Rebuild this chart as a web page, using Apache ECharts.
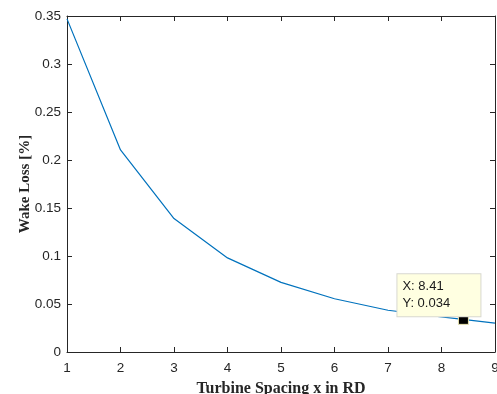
<!DOCTYPE html>
<html>
<head>
<meta charset="utf-8">
<script src="https://cdn.jsdelivr.net/npm/echarts@6/dist/echarts.min.js"></script>
<style>
  html, body { margin: 0; padding: 0; background: #fff; }
  #chart { width: 497px; height: 394px; }
</style>
</head>
<body>
<div id="chart"></div>
<script>
// turbine spacing (rotor diameters) vs wake loss
const spacing = [1, 2, 3, 4, 5, 6, 7, 8, 9]
const wakeLoss = [0.347, 0.2105, 0.139, 0.098, 0.0725, 0.0555, 0.0435, 0.0365, 0.030]
const tipPoint = [8.41, 0.034]
const tipText = ["X: 8.41", "Y: 0.034"]

const chart = echarts.init(document.getElementById("chart"), null, { renderer: "canvas" })

const tickColor = "#262626"
const axisFont = { color: tickColor, fontFamily: "Arial, 'Liberation Sans', sans-serif", fontSize: 13.5 }

const boxAxis = (extra) => Object.assign({
  type: "value",
  axisLine: { show: true, onZero: false, lineStyle: { color: tickColor, width: 1 } },
  axisTick: { show: true, inside: true, length: 5, lineStyle: { color: tickColor } },
  splitLine: { show: false },
}, extra)

chart.setOption({
  animation: false,
  grid: { left: 67, right: 2, top: 16, bottom: 42, outerBoundsMode: "none", containLabel: false },
  xAxis: [
    boxAxis({
      min: 1, max: 9, interval: 1,
      axisLabel: Object.assign({ margin: 9 }, axisFont),
      name: "Turbine Spacing x in RD",
      nameLocation: "middle",
      nameGap: 29,
      nameMoveOverlap: false,
      nameTextStyle: { fontFamily: "'Liberation Serif', 'Times New Roman', serif", fontWeight: "bold", fontSize: 16, color: tickColor },
    }),
    boxAxis({ min: 1, max: 9, interval: 1, position: "top", axisLabel: { show: false } }),
  ],
  yAxis: [
    boxAxis({
      min: 0, max: 0.35, interval: 0.05,
      axisLabel: Object.assign({ margin: 6 }, axisFont),
      name: "Wake Loss [%]",
      nameLocation: "middle",
      nameGap: 34,
      nameMoveOverlap: false,
      nameTextStyle: { fontFamily: "'Liberation Serif', 'Times New Roman', serif", fontWeight: "bold", fontSize: 15, color: tickColor },
    }),
    boxAxis({ min: 0, max: 0.35, interval: 0.05, position: "right", axisLabel: { show: false } }),
  ],
  series: [
    {
      type: "line",
      data: spacing.map((x, i) => [x, wakeLoss[i]]),
      symbol: "none",
      lineStyle: { color: "#0072BD", width: 1.2 },
      markPoint: {
        silent: true,
        data: [{
          coord: tipPoint,
          symbol: "rect",
          symbolSize: 10,
          itemStyle: { color: "#000", borderColor: "#e8e4b0", borderWidth: 1 },
          label: {
            show: true,
            position: "inside",
            offset: [-66, -24],
            formatter: tipText.join("\n"),
            backgroundColor: "#ffffe1",
            borderColor: "#d8d8d0",
            borderWidth: 1,
            padding: [4, 5, 4, 5],
            width: 73,
            lineHeight: 17,
            align: "left",
            color: "#1a1a1a",
            fontFamily: "Arial, 'Liberation Sans', sans-serif",
            fontSize: 13,
          },
        }],
      },
    },
  ],
})
</script>
</body>
</html>
